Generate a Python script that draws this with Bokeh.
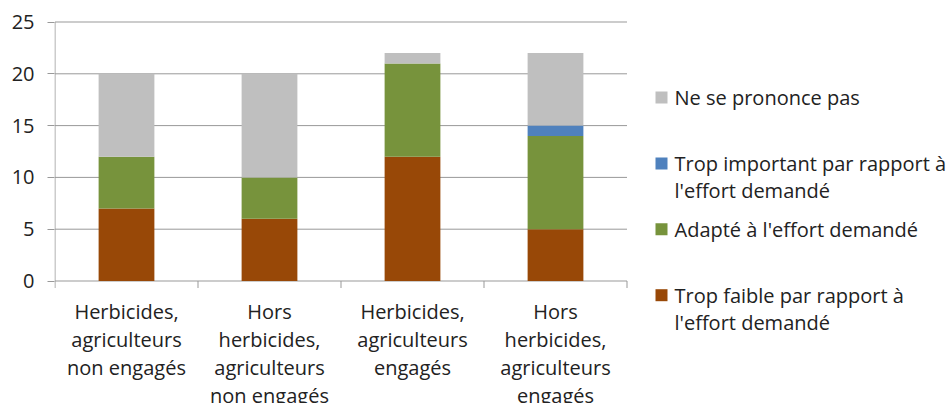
from bokeh.plotting import figure
from bokeh.models import ColumnDataSource, Range1d, FixedTicker, LinearAxis
from bokeh.embed import file_html
from bokeh.resources import INLINE
from bokeh.core.properties import value

# ---- data ----
categories = [
    "Herbicides,\nagriculteurs\nnon engagés",
    "Hors\nherbicides,\nagriculteurs\nnon engagés",
    "Herbicides,\nagriculteurs\nengagés",
    "Hors\nherbicides,\nagriculteurs\nengagés",
]
trop_faible = [7, 6, 12, 5]
adapte = [5, 4, 9, 9]
trop_important = [0, 0, 0, 1]
ne_se_prononce_pas = [8, 10, 1, 7]

series_keys = ["faible", "adapte", "important", "nspp"]
series_labels = [
    "Trop faible par rapport à\nl'effort demandé",
    "Adapté à l'effort demandé",
    "Trop important par rapport à\nl'effort demandé",
    "Ne se prononce pas",
]
colors = ["#984807", "#77933C", "#4F81BD", "#BFBFBF"]
y_ticks = [0, 5, 10, 15, 20, 25]
y_max = 25

FONT = "Open Sans"
TXT = "#222222"
GRID = "#999999"
FS = "20px"

# ---- layout geometry (page pixels) ----
W, H = 948, 403
F_LEFT = 54            # plot area left edge (y axis)
F_RIGHT = 626          # plot area right edge
Y_TOP_PX = 21.5        # pixel row of y = y_max
Y_ZERO_PX = 280.5      # pixel row of y = 0
TEXT_SHIFT = -6        # correction for where baseline-anchored text lands
n = len(categories)
px_per_x = (F_RIGHT - F_LEFT) / n
px_per_y = (Y_ZERO_PX - Y_TOP_PX) / y_max


def dx(px):
    return (px - F_LEFT - 0.5) / px_per_x


def dy(py):
    return (Y_ZERO_PX - py) / px_per_y


xs = [i + 0.5 for i in range(n)]
source = ColumnDataSource(dict(x=xs, faible=trop_faible, adapte=adapte,
                               important=trop_important, nspp=ne_se_prononce_pas))

# frame covers everything right of the y axis labels
p = figure(width=W, height=H, output_backend="svg", toolbar_location=None,
           x_range=Range1d(dx(F_LEFT), dx(W)), y_range=Range1d(dy(H), dy(0)),
           min_border_left=F_LEFT, min_border_right=0, min_border_top=0, min_border_bottom=0,
           x_axis_type=None, y_axis_type=None)
p.outline_line_color = None
p.background_fill_color = "white"
p.border_fill_color = "white"
p.xgrid.visible = False
p.ygrid.visible = False

# gridlines (0 line doubles as the category axis line)
p.segment(x0=[0] * len(y_ticks), x1=[n] * len(y_ticks), y0=y_ticks, y1=y_ticks,
          line_color=GRID, line_width=1)
# value axis line
p.segment(x0=[0], x1=[0], y0=[0], y1=[y_max], line_color=GRID, line_width=1)
# category boundary ticks
bounds = list(range(n + 1))
p.segment(x0=bounds, x1=bounds, y0=[0] * len(bounds), y1=[-7 / px_per_y] * len(bounds),
          line_color=GRID, line_width=1)

p.vbar_stack(series_keys, x="x", width=0.39, color=colors, line_color=None, source=source)

# y axis: ticks and labels only
yax = LinearAxis(ticker=FixedTicker(ticks=y_ticks))
yax.axis_line_color = None
yax.major_tick_line_color = GRID
yax.major_tick_out = 7
yax.major_tick_in = 0
yax.minor_tick_line_color = None
yax.major_label_text_font = FONT
yax.major_label_text_font_size = FS
yax.major_label_text_color = TXT
yax.major_label_standoff = 13
p.add_layout(yax, "left")

# category labels
cx, cy, ct = [], [], []
for x, c in zip(xs, categories):
    for j, line in enumerate(c.split("\n")):
        cx.append(x)
        cy.append(dy(317 + 28 * j + TEXT_SHIFT))
        ct.append(line)
p.text(x=cx, y=cy, text=ct, text_font=value(FONT), text_font_size=FS,
       text_color=TXT, text_align="center", text_baseline="alphabetic")

# legend (top to bottom)
order = [3, 2, 1, 0]
sx0, sx1, sy0, sy1, sc = [], [], [], [], []
lx, ly, lt = [], [], []
for slot, idx in enumerate(order):
    base = 103 + 65.9 * slot
    sx0.append(dx(655)); sx1.append(dx(667))
    sy0.append(dy(base)); sy1.append(dy(base - 12))
    sc.append(colors[idx])
    for j, line in enumerate(series_labels[idx].split("\n")):
        lx.append(dx(674))
        ly.append(dy(base + 27 * j + TEXT_SHIFT))
        lt.append(line)
p.quad(left=sx0, right=sx1, bottom=sy0, top=sy1, color=sc, line_color=None)
p.text(x=lx, y=ly, text=lt, text_font=value(FONT), text_font_size=FS,
       text_color=TXT, text_align="left", text_baseline="alphabetic")

open("out.html", "w").write(file_html(p, INLINE))
